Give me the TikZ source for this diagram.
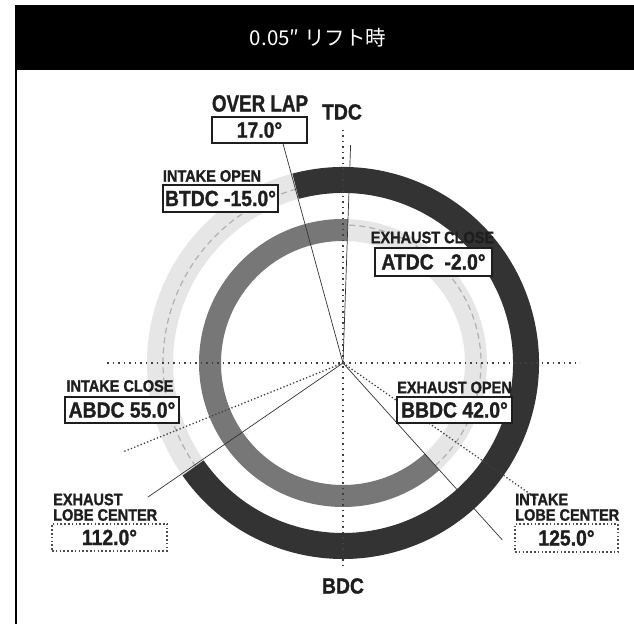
\documentclass[tikz,border=0pt]{standalone}
\usepackage{fontspec}
\usetikzlibrary{calc}
\newfontfamily\cjk{Noto Sans CJK JP}
\newfontfamily\cond[FakeStretch=0.88, BoldFeatures={FakeBold=1.2}]{Liberation Sans}
\newfontfamily\condn[FakeStretch=0.8, BoldFeatures={FakeBold=1.2}]{Liberation Sans}
\definecolor{ringdark}{HTML}{333333}
\definecolor{ringmid}{HTML}{777777}
\definecolor{ringlight}{HTML}{E6E6E6}
\definecolor{ringdash}{HTML}{B0B0B0}
\definecolor{ink}{HTML}{1E1E1E}
\tikzset{
  lbl/.style={font=\cond\bfseries\fontsize{16.5}{16.5}\selectfont, text=ink, inner sep=0pt},
  biglbl/.style={font=\cond\bfseries\fontsize{22}{22}\selectfont, text=ink, inner sep=0pt},
  valbox/.style={draw=ink, line width=2pt, fill=white, inner sep=0pt,
    font=\cond\bfseries\fontsize{22}{22}\selectfont, text=ink},
  dotbox/.style={draw=black!70, line width=1.6pt, dash pattern=on 1.6pt off 2.2pt, fill=white, inner sep=0pt,
    font=\cond\bfseries\fontsize{22}{22}\selectfont, text=ink},
  axisline/.style={draw=black!75, line width=1.4pt, dash pattern=on 1.5pt off 4pt},
  leader/.style={draw=black!80, line width=0.7pt},
  lobeline/.style={draw=black!75, line width=1.3pt, dash pattern=on 1.3pt off 2.2pt},
}
\begin{document}
\begin{tikzpicture}[x=1pt,y=1pt]
\useasboundingbox (0,0) rectangle (634,624);
\fill[white] (0,0) rectangle (634,624);
% frame
\fill[black] (15,554) rectangle (634,619);
\fill[black] (14.5,0) rectangle (17,554);
\node[text=white, font=\cjk\fontsize{20.5}{20.5}\selectfont, inner sep=0pt] (title) at (318,586) {0.05″ リフト時};

\coordinate (C) at (343,261);
% outer ring: intake (dark) and remaining (light)
\draw[ringlight, line width=26pt] (C) ++(105:183) arc[start angle=105, end angle=215, radius=183];
\draw[ringdash, line width=1.2pt, dash pattern=on 6pt off 4pt] (C) ++(105:180) arc[start angle=105, end angle=215, radius=180];
\draw[ringdark, line width=26pt] (C) ++(105:183) arc[start angle=105, end angle=-145, radius=183];
% inner ring: exhaust (mid) and remaining (light)
\draw[ringlight, line width=22pt] (C) ++(-48:133) arc[start angle=-48, end angle=88, radius=133];
\draw[ringdash, line width=1.2pt, dash pattern=on 6pt off 4pt] (C) ++(-48:138) arc[start angle=-48, end angle=88, radius=138];
\draw[ringmid, line width=22pt] (C) ++(88:133) arc[start angle=88, end angle=312, radius=133];

% axes
\coordinate (axL) at (107,261);
\coordinate (axR) at (580,261);
\coordinate (axT) at (343,494);
\coordinate (axB) at (343,57);
\draw[axisline] (axL) -- (axR);
\draw[axisline] (axT) -- (axB);

% lobe centre lines (dotted)
\coordinate (exlobe) at ($(C)+(202:237)$);
\coordinate (inlobe) at ($(C)+(-35:237)$);
\draw[lobeline] (C) -- (exlobe);
\draw[lobeline] (C) -- (inlobe);

% event lines
\coordinate (ioEnd) at ($(C)+(105.3:228)$);
\coordinate (ecEnd) at ($(C)+(88:218)$);
\coordinate (icEnd) at ($(C)+(214.5:237)$);
\coordinate (eoEnd) at ($(C)+(-48:238)$);
\draw[leader] (C) -- (ioEnd);
\draw[leader] (C) -- (ecEnd);
\draw[leader] (C) -- (icEnd);
\draw[leader] (C) -- (eoEnd);

% labels
\node[biglbl] (tdc) at (342,512) {TDC};
\node[biglbl] (bdc) at (343,38) {BDC};

\node[font=\condn\bfseries\fontsize{23.5}{23.5}\selectfont, text=ink, inner sep=0pt] (ovl) at (260,520.5) {OVER LAP};
\node[valbox, minimum width=95pt, minimum height=26pt] (ovlv) at (259.5,494) {17.0°};

\node[lbl] (io) at (212,448) {INTAKE OPEN};
\node[valbox, minimum width=115pt, minimum height=27pt] (iov) at (220.5,425.5) {BTDC -15.0°};

\node[lbl] (ec) at (432.5,386.5) {EXHAUST CLOSE};
\node[valbox, minimum width=117pt, minimum height=28pt] (ecv) at (433.5,362) {ATDC\ \ -2.0°};

\node[lbl] (ic) at (120,238) {INTAKE CLOSE};
\node[valbox, minimum width=114pt, minimum height=26pt] (icv) at (122,214) {ABDC 55.0°};

\node[lbl] (eo) at (454.5,236.5) {EXHAUST OPEN};
\node[valbox, minimum width=115pt, minimum height=26pt] (eov) at (454.5,214) {BBDC 42.0°};

\node[lbl, anchor=west] (exl1) at (53,124.5) {EXHAUST};
\node[lbl, anchor=west] (exl2) at (53,109) {LOBE CENTER};
\node[dotbox, minimum width=115pt, minimum height=27pt] (exlv) at (109.5,86.5) {112.0°};

\node[lbl, anchor=west] (inl1) at (515,124.5) {INTAKE};
\node[lbl, anchor=west] (inl2) at (515,109) {LOBE CENTER};
\node[dotbox, minimum width=103pt, minimum height=28pt] (inlv) at (566.5,86) {125.0°};
\end{tikzpicture}
\end{document}
